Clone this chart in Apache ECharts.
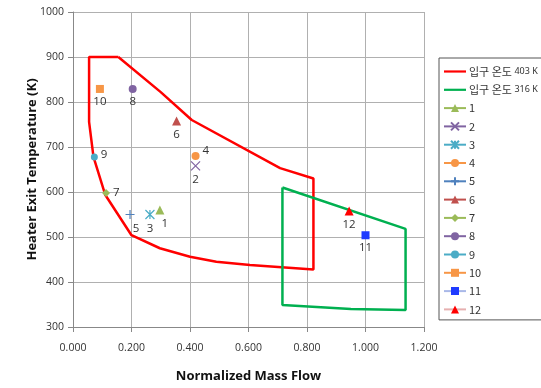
<!DOCTYPE html>
<html>
<head>
<meta charset="utf-8">
<script src="https://cdn.jsdelivr.net/npm/echarts@6/dist/echarts.min.js"></script>
<style>
  html, body { margin: 0; padding: 0; background: #fff; }
  #chart { width: 541px; height: 388px; }
</style>
</head>
<body>
<div id="chart"></div>
<script>
// envelope for 403 K inlet temperature
const redPolygon = [
  [0.155, 900], [0.30, 822], [0.406, 760], [0.708, 653], [0.822, 630],
  [0.822, 428], [0.605, 438], [0.49, 445], [0.40, 456], [0.297, 475],
  [0.20, 504], [0.11, 594], [0.07, 678], [0.055, 756], [0.055, 900], [0.155, 900]
]
// envelope for 316 K inlet temperature
const greenPolygon = [
  [0.716, 610], [1.137, 518], [1.137, 338], [0.95, 340], [0.716, 349], [0.716, 610]
]
const pointNames = ['1', '2', '3', '4', '5', '6', '7', '8', '9', '10', '11', '12']
const pointX = [0.297, 0.419, 0.263, 0.419, 0.195, 0.354, 0.113, 0.204, 0.073, 0.092, 1.0, 0.944]
const pointY = [560, 658, 550, 680, 550, 758, 598, 829, 678, 829, 504, 558]

const xPath = 'path://M0,0L10,10M10,0L0,10'
const plusPath = 'path://M5,0L5,10M0,5L10,5'
const starPath = 'path://M0,0L10,10M10,0L0,10M5,0L5,10'
const boxXPath = 'path://M0,0L10,0L10,10L0,10ZM0,0L10,10M10,0L0,10'
const lineIcon = 'path://M0,0L22,0L22,2.2L0,2.2Z'

const pointStyle = [
  { symbol: 'triangle', size: 9, color: '#9BBB59', line: '#9BBB59', pos: 'bottom', offset: [5, 0] },
  { symbol: xPath, size: 9, color: '#8064A2', line: '#8064A2', stroke: true, pos: 'bottom', offset: [0, 0] },
  { symbol: starPath, size: 9, color: '#4BACC6', line: '#4BACC6', stroke: true, pos: 'bottom', offset: [0, 0] },
  { symbol: 'circle', size: 8, color: '#F79646', line: '#F79646', pos: 'right', offset: [0, -5] },
  { symbol: plusPath, size: 9, color: '#4F81BD', line: '#4F81BD', stroke: true, pos: 'bottom', offset: [6, 0] },
  { symbol: 'triangle', size: 9, color: '#C0504D', line: '#C0504D', pos: 'bottom', offset: [0, 0] },
  { symbol: 'diamond', size: 8, color: '#9BBB59', line: '#9BBB59', pos: 'right', offset: [0, 0] },
  { symbol: 'circle', size: 8, color: '#8064A2', line: '#8064A2', pos: 'bottom', offset: [0, 0] },
  { symbol: 'circle', size: 7, color: '#4BACC6', line: '#4BACC6', pos: 'right', offset: [0, -2] },
  { symbol: 'rect', size: 8, color: '#F79646', line: '#F79646', pos: 'bottom', offset: [0, 0] },
  { symbol: boxXPath, size: 8, color: '#1F3BFF', line: '#A9B8E8', pos: 'bottom', offset: [0, 0] },
  { symbol: 'triangle', size: 9, color: '#FF0000', line: '#E6B0B0', pos: 'bottom', offset: [0, 0] }
]

const chart = echarts.init(document.getElementById('chart'))

const series = [
  {
    name: 'red',
    type: 'line',
    data: redPolygon,
    symbol: 'none',
    lineStyle: { color: '#FF0000', width: 2.5 },
    itemStyle: { color: '#FF0000' },
    z: 2
  },
  {
    name: 'green',
    type: 'line',
    data: greenPolygon,
    symbol: 'none',
    lineStyle: { color: '#00B050', width: 2.5 },
    itemStyle: { color: '#00B050' },
    z: 2
  }
]

pointNames.forEach((name, i) => {
  const s = pointStyle[i]
  series.push({
    name: name,
    type: 'line',
    data: [[pointX[i], pointY[i]]],
    symbol: s.symbol,
    symbolSize: s.size,
    showSymbol: true,
    lineStyle: { color: s.line, width: 2 },
    itemStyle: s.stroke
      ? { color: 'transparent', borderColor: s.color, borderWidth: 1.2 }
      : { color: s.color, borderColor: s.color, borderWidth: 0 },
    label: {
      show: true,
      position: s.pos,
      offset: s.offset,
      distance: 3,
      formatter: name,
      color: '#333',
      fontSize: 11.5,
      fontFamily: 'Open Sans'
    },
    z: 3
  })
})

const options = {
  animation: false,
  grid: { left: 73, right: 117, top: 12, bottom: 61 },
  xAxis: {
    type: 'value',
    min: 0,
    max: 1.2,
    interval: 0.2,
    name: 'Normalized Mass Flow',
    nameLocation: 'middle',
    nameGap: 43,
    nameMoveOverlap: false,
    nameTextStyle: { fontSize: 13, fontWeight: 'bold', color: '#111', fontFamily: 'Open Sans' },
    axisLine: { lineStyle: { color: '#888' } },
    axisTick: { show: true, length: 5, lineStyle: { color: '#888' } },
    axisLabel: { formatter: v => v.toFixed(3), color: '#333', fontSize: 10.5, margin: 16, fontFamily: 'Open Sans' },
    splitLine: { lineStyle: { color: '#B0B0B0' } }
  },
  yAxis: {
    type: 'value',
    min: 300,
    max: 1000,
    interval: 100,
    name: 'Heater Exit Temperature (K)',
    nameLocation: 'middle',
    nameGap: 34,
    nameMoveOverlap: false,
    nameTextStyle: { fontSize: 13, fontWeight: 'bold', color: '#111', fontFamily: 'Open Sans' },
    axisLine: { show: true, lineStyle: { color: '#888' } },
    axisTick: { show: true, length: 5, lineStyle: { color: '#888' } },
    axisLabel: { formatter: v => String(v), color: '#333', fontSize: 10.5, margin: 9, fontFamily: 'Open Sans' },
    splitLine: { lineStyle: { color: '#B0B0B0' } }
  },
  legend: {
    orient: 'vertical',
    left: 439,
    top: 58,
    width: 99,
    padding: [8, 6, 5, 4],
    borderColor: '#555',
    borderWidth: 1,
    itemWidth: 22,
    itemHeight: 10,
    itemGap: 7.3,
    data: [{ name: 'red', icon: lineIcon }, { name: 'green', icon: lineIcon }].concat(pointNames),
    formatter: name => {
      if (name === 'red') return '{a|입구 온도} {b|403 K}'
      if (name === 'green') return '{a|입구 온도} {b|316 K}'
      return name
    },
    textStyle: {
      color: '#333',
      fontSize: 11,
      fontFamily: 'Noto Sans CJK KR',
      padding: [0, 0, 0, -2],
      rich: {
        a: { fontSize: 11, fontFamily: 'Noto Sans CJK KR', color: '#333' },
        b: { fontSize: 9, fontFamily: 'Noto Sans', color: '#333' }
      }
    }
  },
  series: series
}

chart.setOption(options)
</script>
</body>
</html>
